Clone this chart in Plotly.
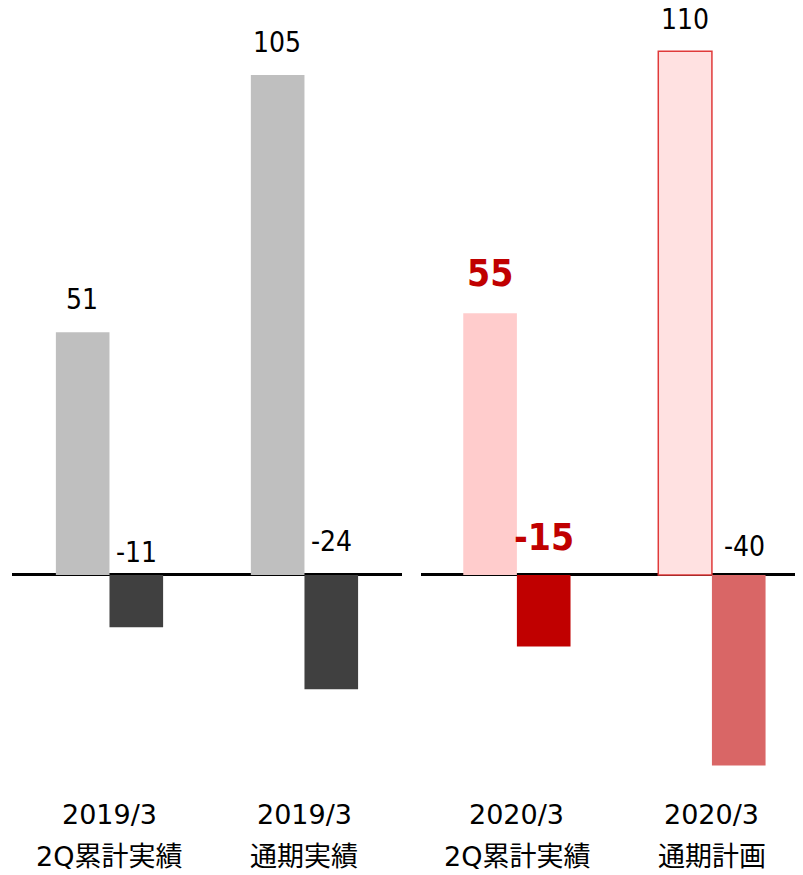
import plotly.graph_objects as go

# data
periods_2019 = ["2019/3", "2019/3"]
kinds_2019 = ["2Q累計実績", "通期実績"]
profit_2019 = [51, 105]
loss_2019 = [-11, -24]

periods_2020 = ["2020/3", "2020/3"]
kinds_2020 = ["2Q累計実績", "通期計画"]
profit_2020 = [55, 110]
loss_2020 = [-15, -40]

style = dict(
    text="#000000",
    accent="#C00000",
    grey="#BFBFBF",
    dark="#404040",
    pink="#FFCCCC",
    pale="#FFE1E1",
    outline="#E03A3A",
    rose="#D96666",
    num_font="DejaVu Sans Condensed, DejaVu Sans",
    cat_font="DejaVu Sans, Noto Sans CJK JP",
)

BAR_HALF = 27  # px offset of each bar from its category centre
# how far the loss labels sit above the zero line (px), per bar
loss_lift = {"x": [4, 15], "x2": [14, 10]}

fig = go.Figure()

fig.add_trace(go.Bar(x=kinds_2019, y=profit_2019, marker_color=style["grey"],
                     marker_line_width=0, xaxis="x", yaxis="y"))
fig.add_trace(go.Bar(x=kinds_2019, y=loss_2019, marker_color=style["dark"],
                     marker_line_width=0, xaxis="x", yaxis="y"))
fig.add_trace(go.Bar(x=kinds_2020, y=profit_2020,
                     marker=dict(color=[style["pink"], style["pale"]],
                                 line=dict(color=["rgba(0,0,0,0)", style["outline"]], width=1.5)),
                     xaxis="x2", yaxis="y2"))
fig.add_trace(go.Bar(x=kinds_2020, y=loss_2020,
                     marker=dict(color=[style["accent"], style["rose"]], line_width=0),
                     xaxis="x2", yaxis="y2"))

annotations = []


def value_label(xref, cat, val, side, bold=False, up=20, nudge=0):
    font = dict(family=style["num_font"], size=28, color=style["text"])
    txt = str(val)
    if bold:
        font.update(size=37, color=style["accent"])
        txt = f"<b>{val}</b>"
    annotations.append(dict(
        xref=xref, yref=xref.replace("x", "y"), x=cat, y=max(val, 0),
        text=txt, showarrow=False, yanchor="bottom",
        xshift=side * BAR_HALF + nudge, yshift=up, font=font,
    ))


for i, (cat, p, l) in enumerate(zip(kinds_2019, profit_2019, loss_2019)):
    value_label("x", cat, p, -1, up=14)
    value_label("x", cat, l, 1, up=loss_lift["x"][i])
for i, (cat, p, l) in enumerate(zip(kinds_2020, profit_2020, loss_2020)):
    value_label("x2", cat, p, -1, bold=(i == 0), up=16 if i == 0 else 13)
    value_label("x2", cat, l, 1, bold=(i == 0), up=loss_lift["x2"][i],
                nudge=0 if i == 0 else 6)

for xref, periods, kinds in (("x", periods_2019, kinds_2019), ("x2", periods_2020, kinds_2020)):
    for per, kind in zip(periods, kinds):
        for txt, shift in ((per, -31), (kind, -73)):
            annotations.append(dict(
                xref=xref, yref="paper", x=kind, y=0, text=txt, showarrow=False,
                yanchor="middle", yshift=shift,
                font=dict(family=style["cat_font"], size=27, color=style["text"]),
            ))

yrange = [-43.7, 119.1]
axis_y = dict(range=yrange, showgrid=False, showticklabels=False, zeroline=True,
              zerolinecolor="#000000", zerolinewidth=3)
axis_x = dict(type="category", showgrid=False, showticklabels=False, showline=False,
              ticks="")

fig.update_layout(
    width=795,
    height=867,
    margin=dict(l=4, r=0, t=0, b=92),
    paper_bgcolor="white",
    plot_bgcolor="white",
    showlegend=False,
    barmode="group",
    bargap=0.45,
    bargroupgap=0,
    xaxis=dict(axis_x, domain=[0, 0.493], range=[-0.5, 1.5]),
    xaxis2=dict(axis_x, domain=[0.517, 1], range=[-0.492, 1.467]),
    yaxis=dict(axis_y, anchor="x"),
    yaxis2=dict(axis_y, anchor="x2"),
    annotations=annotations,
)

fig.write_html("out.html")
